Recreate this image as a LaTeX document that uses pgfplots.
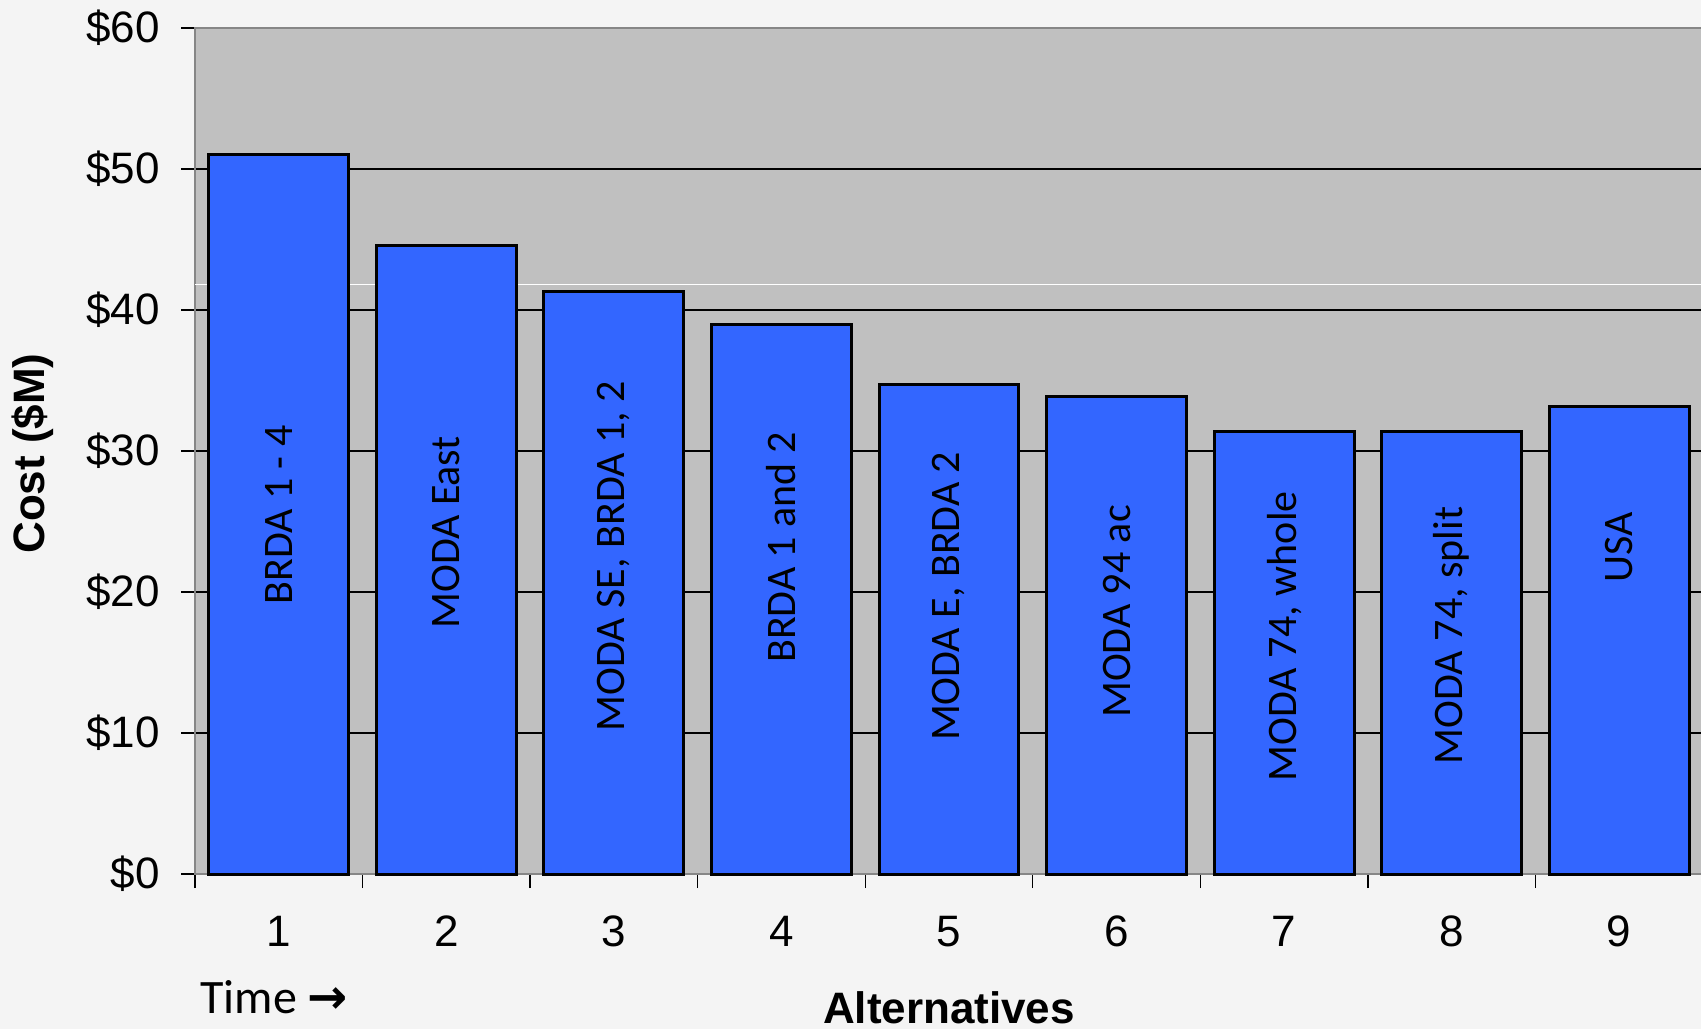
\documentclass[border=0pt]{standalone}
\usepackage{pgfplots}
\pgfplotsset{compat=1.18}
\usepackage{fontspec}
\setmainfont{Liberation Sans}
\newfontfamily\calfont{Carlito}
\newfontfamily\dejavu{DejaVu Sans}
\definecolor{pagebg}{HTML}{F4F4F4}
\definecolor{plotbg}{HTML}{C0C0C0}
\definecolor{barblue}{HTML}{3366FF}
\definecolor{axisgray}{HTML}{868686}
\begin{document}
\begin{tikzpicture}
\fill[pagebg] (0,0) rectangle (425.25pt,257.25pt);
\useasboundingbox (0,0) rectangle (425.25pt,257.25pt);
\begin{axis}[
  at={(48.75pt,38.75pt)}, anchor=south west,
  scale only axis, width=377pt, height=211.5pt,
  xmin=0.5, xmax=9.5, ymin=0, ymax=60,
  xtick={0.5,1.5,...,9.5}, x tick label as interval,
  xticklabels={1,2,3,4,5,6,7,8,9},
  ytick={0,10,...,60},
  yticklabels={\$0,\$10,\$20,\$30,\$40,\$50,\$60},
  tick align=outside, major tick length=3.5pt,
  xtick pos=bottom, ytick pos=left,
  tick style={black, line width=0.35pt},
  ymajorgrids, major grid style={black, line width=0.3pt},
  axis background/.style={fill=plotbg},
  axis line style={draw=axisgray, line width=0.7pt},
  ticklabel style={font=\fontsize{11}{13}\selectfont},
  xticklabel style={yshift=-3.4pt},
  yticklabel style={xshift=-1.75pt},
  ylabel={Cost (\$M)},
  ylabel style={at={(axis description cs:-0.1074,0.497)}, anchor=center, font=\fontsize{11}{13}\selectfont\bfseries},
  xlabel={Alternatives},
  xlabel style={at={(axis description cs:0.5,-0.158)}, anchor=center, font=\fontsize{11}{13}\selectfont\bfseries},
  clip=false,
]
\draw[white, line width=0.3pt] (axis cs:0.5,41.8) -- (axis cs:9.5,41.8);
\addplot[ybar, bar width=0.835, fill=barblue, draw=black, line width=0.75pt]
  coordinates {(1,51.0) (2,44.6) (3,41.3) (4,39.0) (5,34.7) (6,33.85) (7,31.4) (8,31.4) (9,33.15)};
\begin{scope}[every node/.style={rotate=90, anchor=center, font=\calfont\fontsize{10.5}{12}\selectfont}]
\node at (axis cs:1,25.46) {BRDA 1 - 4};
\node at (axis cs:2,24.23) {MODA East};
\node at (axis cs:3,22.54) {MODA SE, BRDA 1, 2};
\node at (axis cs:4,23.15) {BRDA 1 and 2};
\node at (axis cs:5,19.69) {MODA E, BRDA 2};
\node at (axis cs:6,18.62) {MODA 94 ac};
\node at (axis cs:7,16.85) {MODA 74, whole};
\node at (axis cs:8,16.92) {MODA 74, split};
\node at (axis cs:9,23.15) {USA};
\end{scope}
\node[anchor=west, inner sep=0pt, font=\calfont\fontsize{12}{14}\selectfont] at (axis description cs:0.003,-0.145) {Time {\dejavu\bfseries →}};
\end{axis}
\end{tikzpicture}
\end{document}
